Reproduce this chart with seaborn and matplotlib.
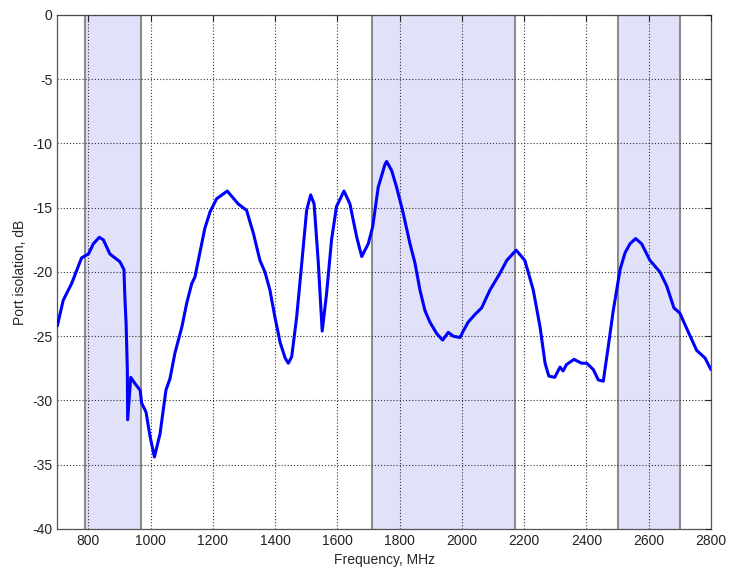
import matplotlib
matplotlib.use("Agg")
import matplotlib.pyplot as plt
import seaborn as sns

freq_mhz = [700, 719, 746, 778, 800, 816, 835, 848, 869, 901, 914, 917, 921, 925, 926,
            936, 950, 966, 971, 985, 998, 1012, 1030, 1049, 1062, 1078, 1100, 1116, 1132,
            1142, 1158, 1174, 1191, 1212, 1246, 1281, 1308, 1330, 1351, 1367, 1383, 1399,
            1416, 1432, 1442, 1453, 1469, 1485, 1501, 1514, 1525, 1538, 1551, 1565, 1581,
            1597, 1621, 1640, 1662, 1678, 1699, 1713, 1731, 1753, 1758, 1774, 1790,
            1811, 1833, 1849, 1865, 1881, 1897, 1919, 1938, 1956, 1972, 1994, 2004, 2020,
            2042, 2063, 2090, 2122, 2144, 2174, 2202, 2229, 2251, 2267, 2279, 2298, 2315,
            2325, 2336, 2360, 2384, 2401, 2422, 2438, 2454, 2470, 2486, 2508, 2524, 2540,
            2558, 2577, 2604, 2636, 2658, 2681, 2700, 2722, 2754, 2781, 2800]
isolation_db = [-24.2, -22.2, -20.9, -18.9, -18.6, -17.8, -17.3, -17.5, -18.6, -19.2, -19.8,
                -21.9, -24.0, -27.6, -31.5, -28.2, -28.7, -29.2, -30.2, -30.9, -32.8, -34.4,
                -32.6, -29.2, -28.3, -26.3, -24.3, -22.4, -20.9, -20.4, -18.5, -16.6, -15.3,
                -14.3, -13.7, -14.7, -15.2, -17.0, -19.1, -20.0, -21.4, -23.5, -25.5, -26.7,
                -27.1, -26.6, -23.5, -19.4, -15.2, -14.0, -14.7, -19.1, -24.6, -21.7, -17.5,
                -14.9, -13.7, -14.7, -17.3, -18.8, -17.8, -16.5, -13.4, -11.6, -11.4,
                -12.1, -13.4, -15.4, -17.8, -19.3, -21.4, -23.0, -23.9, -24.8, -25.3, -24.7,
                -25.0, -25.1, -24.6, -23.9, -23.3, -22.8, -21.4, -20.1, -19.1, -18.3, -19.1,
                -21.4, -24.3, -27.1, -28.1, -28.2, -27.4, -27.7, -27.2, -26.8, -27.1, -27.1,
                -27.6, -28.4, -28.5, -25.8, -23.0, -19.8, -18.5, -17.8, -17.4, -17.8, -19.1,
                -20.0, -21.1, -22.8, -23.2, -24.4, -26.1, -26.7, -27.6]

# Operating bands (MHz)
band_lo = [790, 1710, 2500]
band_hi = [970, 2170, 2700]

x_ticks = list(range(800, 2801, 200))
y_ticks = list(range(-40, 1, 5))

sns.set_style("white")
plt.rcParams["font.family"] = ["Liberation Sans", "DejaVu Sans"]
plt.rcParams["axes.unicode_minus"] = False

fig = plt.figure(figsize=(7.29, 5.79), dpi=100)
ax = fig.add_axes([0.0786, 0.0864, 0.8967, 0.8877])

# Shaded bands
for lo, hi in zip(band_lo, band_hi):
    ax.axvspan(lo, hi, facecolor="#e1e1fa", edgecolor="none", zorder=0)
    ax.axvline(lo, color="#8c8c8c", lw=1.5, zorder=1)
    ax.axvline(hi, color="#8c8c8c", lw=1.5, zorder=1)

sns.lineplot(x=freq_mhz, y=isolation_db, color="#0000ff", linewidth=2.2, ax=ax, zorder=3)

ax.set_xlim(700, 2800)
ax.set_ylim(-40, 0)
ax.set_xticks(x_ticks)
ax.set_yticks(y_ticks)
ax.grid(True, linestyle=(0, (1, 1.8)), color="#333333", linewidth=0.8, zorder=2)
ax.set_axisbelow(False)
ax.tick_params(direction="in", top=True, right=True, length=4, labelsize=10, colors="#222222")
for s in ax.spines.values():
    s.set_color("#555555")
    s.set_linewidth(0.9)

ax.set_xlabel("Frequency, MHz", fontsize=10)
ax.set_ylabel("Port isolation, dB", fontsize=10)

fig.savefig("out.png", dpi=100)
